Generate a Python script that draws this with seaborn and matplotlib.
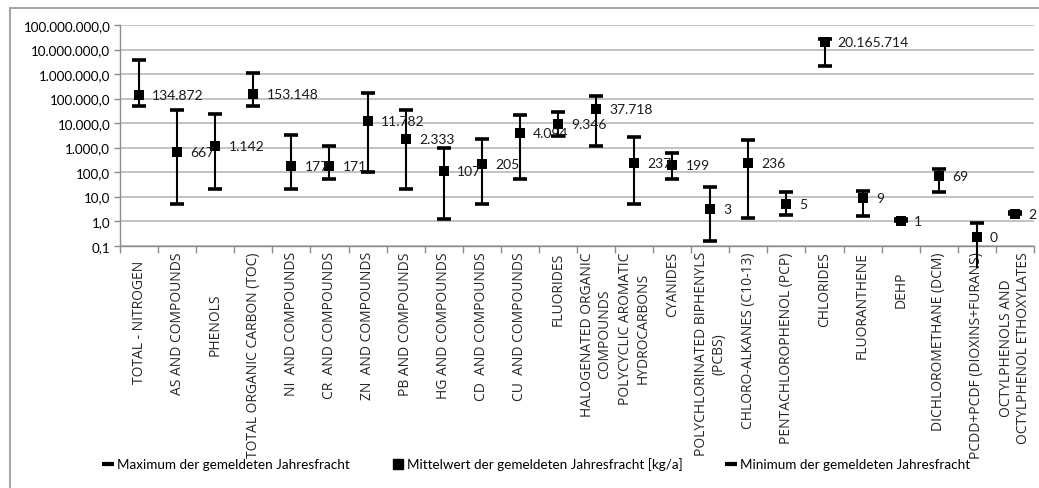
import numpy as np
import pandas as pd
import matplotlib
matplotlib.use("Agg")
import matplotlib.pyplot as plt
import matplotlib.patches as mpatches
from matplotlib.ticker import FixedLocator, FuncFormatter, NullFormatter
import seaborn as sns

# ---- data -------------------------------------------------------------
categories = [
    "TOTAL - NITROGEN", "AS AND COMPOUNDS", "PHENOLS", "TOTAL ORGANIC CARBON (TOC)",
    "NI  AND COMPOUNDS", "CR  AND COMPOUNDS", "ZN  AND COMPOUNDS", "PB AND COMPOUNDS",
    "HG AND COMPOUNDS", "CD  AND COMPOUNDS", "CU  AND COMPOUNDS", "FLUORIDES",
    "HALOGENATED ORGANIC\nCOMPOUNDS", "POLYCYCLIC AROMATIC\nHYDROCARBONS", "CYANIDES",
    "POLYCHLORINATED BIPHENYLS\n(PCBS)", "CHLORO-ALKANES (C10-13)", "PENTACHLOROPHENOL (PCP)",
    "CHLORIDES", "FLUORANTHENE", "DEHP", "DICHLOROMETHANE (DCM)",
    "PCDD+PCDF (DIOXINS+FURANS)", "OCTYLPHENOLS AND\nOCTYLPHENOL ETHOXYLATES",
]
maximum = [3.8e6, 35000, 22600, 1.1e6, 3300, 1200, 167000, 33000, 1000, 2250, 21400,
           27300, 122000, 2600, 610, 24, 2060, 14.8, 2.8e7, 17.8, 1.2, 131, 0.83, 2.3]
mean = [134872, 667, 1142, 153148, 177, 171, 11782, 2333, 107, 205, 4094, 9346,
        37718, 237, 199, 3, 236, 5, 20165714, 9, 1, 69, 0.22, 2]
minimum = [52000, 5, 20, 52000, 20, 55, 100, 20, 1.25, 5, 55, 3000, 1200, 5, 55,
           0.15, 1.3, 1.8, 2.15e6, 1.6, 1.0, 15, 0.012, 2.0]

label_max = "Maximum der gemeldeten Jahresfracht"
label_mean = "Mittelwert der gemeldeten Jahresfracht [kg/a]"
label_min = "Minimum der gemeldeten Jahresfracht"

df = pd.DataFrame({"cat": categories, "max": maximum, "mean": mean, "min": minimum})

# ---- style ------------------------------------------------------------
sns.set_theme(style="white")
plt.rcParams["font.family"] = ["Lato", "DejaVu Sans"]
plt.rcParams["text.color"] = "black"

W, H = 1039, 489
fig = plt.figure(figsize=(W / 100, H / 100), dpi=100)
ax = fig.add_axes([120 / W, 1 - 246.7 / H, (1034 - 120) / W, (246.7 - 26) / H])

grid_c = "#b3b3b3"
ax.set_yscale("log")
ax.set_ylim(0.1, 1e8)
ax.set_xlim(-0.5, len(categories) - 0.5)
ax.yaxis.set_major_locator(FixedLocator([10.0 ** k for k in range(-1, 9)]))
ax.yaxis.set_minor_formatter(NullFormatter())
ax.tick_params(axis="y", which="minor", length=0)


def de_format(v, _pos=None):
    s = f"{v:,.1f}"
    return s.replace(",", "X").replace(".", ",").replace("X", ".")


ax.yaxis.set_major_formatter(FuncFormatter(de_format))
ax.grid(axis="y", which="major", color=grid_c, lw=1.1, zorder=0)
ax.set_axisbelow(True)

# vertical range lines (allowed to run past the axis floor)
ax.vlines(df["cat"], df["min"], df["max"], color="black", lw=1.5, zorder=3, clip_on=False)

# max / min caps and mean markers
sns.scatterplot(data=df, x="cat", y="max", marker="_", s=110, linewidth=2.6,
                color="black", ax=ax, zorder=4, label=label_max, clip_on=False)
sns.scatterplot(data=df, x="cat", y="mean", marker="s", s=62, linewidth=0,
                color="black", ax=ax, zorder=5, label=label_mean, clip_on=False)
sns.scatterplot(data=df, x="cat", y="min", marker="_", s=110, linewidth=2.6,
                color="black", ax=ax, zorder=4, label=label_min)

# value labels next to the mean markers
for i, v in enumerate(df["mean"]):
    txt = f"{v:,.0f}".replace(",", ".")
    ax.annotate(txt, (i, v), xytext=(9.5, 0), textcoords="offset points",
                ha="left", va="center", fontsize=10, color="#1a1a1a", zorder=6)

# axes cosmetics
for side in ("top", "right"):
    ax.spines[side].set_visible(False)
for side in ("left", "bottom"):
    ax.spines[side].set_color("#8c8c8c")
    ax.spines[side].set_linewidth(1.0)

ax.set_xlabel("")
ax.set_ylabel("")
ax.tick_params(axis="y", which="major", length=4, width=1, color="#8c8c8c",
               labelsize=9.6, labelcolor="black", pad=3, left=True)

# categories: labels at centres, tick marks on the boundaries
ax.set_xticks(range(len(categories)))
ax.set_xticklabels(categories, rotation=90, ha="center", va="top",
                   multialignment="center", fontsize=10.0, family=["Open Sans", "DejaVu Sans"])
ax.tick_params(axis="x", which="major", length=0, pad=5)
ax.set_xticks(np.arange(-0.5, len(categories), 1.0), minor=True)
ax.tick_params(axis="x", which="minor", length=5, width=1, color="#8c8c8c", bottom=True)

extra_pad = {"TOTAL - NITROGEN": 6, "PHENOLS": 30, "DEHP": 14}
for tick, name in zip(ax.xaxis.get_major_ticks(), categories):
    tick.set_pad(4 + extra_pad.get(name, 0))

# legend along the bottom
if ax.get_legend() is not None:
    ax.get_legend().remove()
h_max = plt.Line2D([], [], marker="_", ls="none", color="black", markersize=8, mew=3)
h_mean = plt.Line2D([], [], marker="s", ls="none", color="black", markersize=7)
h_min = plt.Line2D([], [], marker="_", ls="none", color="black", markersize=8, mew=3)
fig.legend([h_max, h_mean, h_min], [label_max, label_mean, label_min],
           loc="center", bbox_to_anchor=(537 / W, 1 - 465 / H), ncol=3, frameon=False,
           fontsize=9.7, handlelength=0.6, handletextpad=0.35, columnspacing=3.3)

# outer chart frame
frame = mpatches.Rectangle((10 / W, -0.05), 1.2, 1.05 - 9 / H, transform=fig.transFigure,
                           fill=False, edgecolor="#a6a6a6", lw=1.5, clip_on=False)
fig.patches.append(frame)

fig.savefig("out.png", dpi=100)
